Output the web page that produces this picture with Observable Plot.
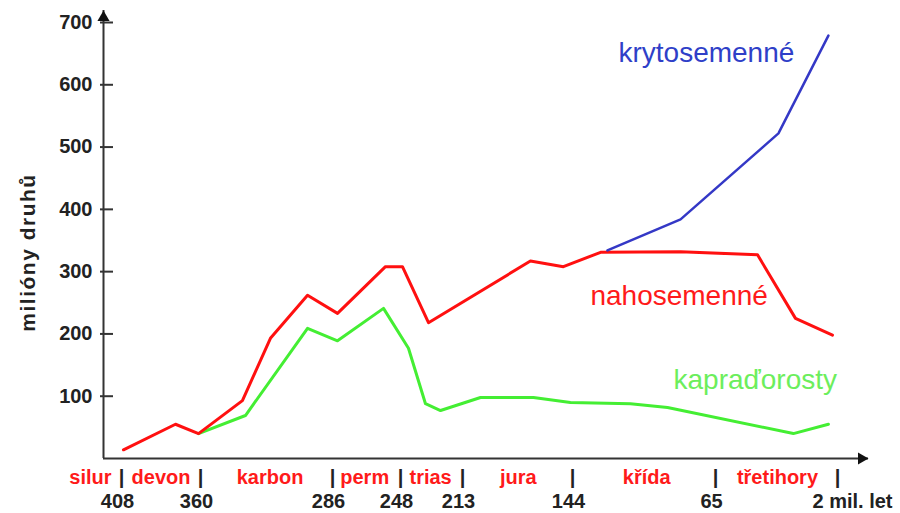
<!DOCTYPE html>
<html>
<head>
<meta charset="utf-8">
<script src="https://cdn.jsdelivr.net/npm/d3@7"></script>
<script src="https://cdn.jsdelivr.net/npm/@observablehq/plot@0.6"></script>
<style>
  body { margin: 0; background: #fff; }
  #chart svg { display: block; }
</style>
</head>
<body>
<div id="chart"></div>
<script>
// ---- data (ages in millions of years ago, values in "milióny druhů") ----
const periods = ["silur", "devon", "karbon", "perm", "trias", "jura", "křída", "třetihory"];
const periodCenters = [427, 384, 321, 268, 231, 178, 103, 33];
const boundaries = [408, 360, 286, 248, 213, 144, 65, 2];
const boundaryLabels = ["408", "360", "286", "248", "213", "144", "65", "2 mil. let"];
const yTicks = [100, 200, 300, 400, 500, 600, 700];

const nahoAge   = [406.8, 375.2, 361.2, 336.5, 320.8, 300.0, 283.2, 256.4, 246.9, 232.2, 170.4, 149.7, 128.5, 84.3, 43.3, 23.7, 4.6];
const nahoValue = [14, 55, 40, 93, 193, 262, 233, 308, 308, 218, 317, 308, 331, 332, 327, 225, 198];

const kapAge   = [361.2, 334.8, 300.0, 283.2, 257.5, 243.5, 233.9, 225.4, 201.7, 168.5, 145.3, 112.0, 91.5, 24.8, 6.7];
const kapValue = [40, 69, 209, 189, 241, 177, 88, 77, 98, 98, 90, 88, 82, 40, 55];

const krytAge   = [124.7, 84.3, 32.5, 6.7];
const krytValue = [334, 384, 522, 679];

const seriesNames = ["krytosemenné", "nahosemenné", "kapraďorosty"];
const seriesColors = ["#3438c6", "#ff1010", "#44ee33"];
const labelColors = ["#2f3fc8", "#ff1a1a", "#6cee5c"];
const labelAge = [118.6, 134.1, 88.2];
const labelValue = [636, 246, 112];

const yTitle = "milióny druhů";

// ---- build tables ----
const toRows = (ages, values) => ages.map((a, i) => ({age: a, value: values[i]}));
const naho = toRows(nahoAge, nahoValue);
const kap = toRows(kapAge, kapValue);
const kryt = toRows(krytAge, krytValue);
const seriesLabels = seriesNames.map((n, i) => ({name: n, age: labelAge[i], value: labelValue[i], color: labelColors[i]}));
const periodRows = periods.map((p, i) => ({name: p, age: periodCenters[i]}));
const boundaryRows = boundaries.map((b, i) => ({age: b, label: boundaryLabels[i]}));

// x axis is drawn piecewise (the original is not to scale)
const xDomain = [419, ...boundaries, -14];
const xRange = [103, 121, 200, 332, 400, 462, 572, 715, 837, 868];
const origin = xDomain[0];

const font = "'Liberation Sans', Arial, Helvetica, sans-serif";
const axisColor = "#333";

const chart = Plot.plot({
  width: 900,
  height: 513,
  marginTop: 10,
  marginBottom: 55,
  marginLeft: 103,
  marginRight: 32,
  style: {background: "#fff", fontFamily: font, overflow: "visible"},
  x: {type: "linear", domain: xDomain, range: xRange, axis: null},
  y: {type: "linear", domain: [0, 700], range: [458, 22], axis: null},
  marks: [
    // axes lines
    Plot.ruleY([0], {stroke: axisColor, strokeWidth: 2}),
    Plot.ruleX([origin], {stroke: axisColor, strokeWidth: 2}),
    Plot.dot([0], {x: () => origin, frameAnchor: "top", dy: 7, symbol: "triangle", r: 4.5, fill: "#111", stroke: "none"}),
    Plot.dot([0], {y: 0, frameAnchor: "right", dx: -7, symbol: "triangle", rotate: 90, r: 4.5, fill: "#111", stroke: "none"}),
    // y ticks and labels
    Plot.ruleY(yTicks, {y: d => d, x1: () => origin, x2: () => origin, insetLeft: -3, insetRight: -10, stroke: axisColor, strokeWidth: 2}),
    Plot.text(yTicks, {x: () => origin, y: d => d, text: d => String(d), textAnchor: "end", dx: -11,
      fontSize: 20, fontWeight: "bold", fill: "#222"}),
    Plot.text([yTitle], {frameAnchor: "left", text: d => d, rotate: -90, textAnchor: "middle", dx: -75, dy: 18,
      fontSize: 21, fontWeight: "bold", fill: "#222"}),
    // x period labels
    Plot.text(periodRows, {x: "age", text: "name", frameAnchor: "bottom", dy: 25, lineAnchor: "bottom", textAnchor: "middle",
      fontSize: 20, fontWeight: "bold", fill: "#ff1a1a"}),
    Plot.text(boundaryRows, {x: "age", text: () => "|", frameAnchor: "bottom", dy: 25, lineAnchor: "bottom", textAnchor: "middle",
      fontSize: 20, fontWeight: "bold", fill: "#222"}),
    Plot.text(boundaryRows.slice(0, -1), {x: "age", text: "label", frameAnchor: "bottom", dy: 49, dx: -4, lineAnchor: "bottom", textAnchor: "middle",
      fontSize: 20, fontWeight: "bold", fill: "#222"}),
    Plot.text(boundaryRows.slice(-1), {x: "age", text: "label", frameAnchor: "bottom", dy: 49, dx: -25, lineAnchor: "bottom", textAnchor: "start",
      fontSize: 20, fontWeight: "bold", fill: "#222"}),
    // series lines
    Plot.line(kap, {x: "age", y: "value", stroke: seriesColors[2], strokeWidth: 3, strokeLinejoin: "round"}),
    Plot.line(naho, {x: "age", y: "value", stroke: seriesColors[1], strokeWidth: 3, strokeLinejoin: "round"}),
    Plot.line(kryt, {x: "age", y: "value", stroke: seriesColors[0], strokeWidth: 2.5, strokeLinejoin: "round"}),
    // series labels
    Plot.text(seriesLabels, {x: "age", y: "value", text: "name", fill: "color", textAnchor: "start", lineAnchor: "bottom",
      fontSize: 28})
  ]
});
// slight letter spacing on the rotated axis title, as in the original
d3.select(chart).selectAll("text").filter(function() { return this.textContent === yTitle; })
  .style("letter-spacing", "1.5px");
document.getElementById("chart").appendChild(chart);
</script>
</body>
</html>
